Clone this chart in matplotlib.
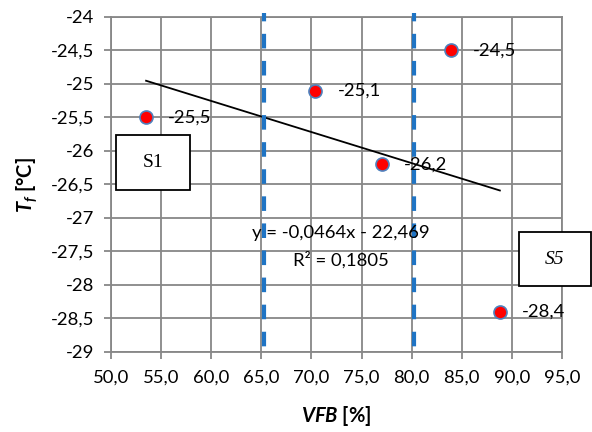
import matplotlib
matplotlib.use("Agg")
import matplotlib.pyplot as plt
import numpy as np
from matplotlib.ticker import FuncFormatter, MultipleLocator
from matplotlib.patches import Rectangle

vfb = [53.5, 70.4, 77.0, 83.9, 88.8]
tf = [-25.5, -25.1, -26.2, -24.5, -28.4]
point_labels = ["-25,5", "-25,1", "-26,2", "-24,5", "-28,4"]
slope = -0.0464
intercept = -22.469
r2_text = "R² = 0,1805"
eq_text = "y = -0,0464x - 22,469"
limit_lines = [65.3, 80.2]

plt.rcParams['font.family'] = ['Lato', 'DejaVu Sans']
plt.rcParams['mathtext.fontset'] = 'custom'
plt.rcParams['mathtext.it'] = 'Lato:italic:bold'
plt.rcParams['mathtext.rm'] = 'Lato:bold'
plt.rcParams['mathtext.bf'] = 'Lato:bold'

FS = 13.3

fig = plt.figure(figsize=(5.92, 4.32), dpi=100)
ax = fig.add_axes([111/592, 1-352/432, (562-111)/592, (352-17)/432])

ax.set_xlim(50, 95)
ax.set_ylim(-29, -24)
ax.xaxis.set_major_locator(MultipleLocator(5))
ax.yaxis.set_major_locator(MultipleLocator(0.5))
ax.xaxis.set_major_formatter(FuncFormatter(lambda v, p: f"{v:.1f}".replace(".", ",")))
def yfmt(v, p):
    s = f"{v:.1f}".rstrip("0").rstrip(".")
    return s.replace(".", ",")
ax.yaxis.set_major_formatter(FuncFormatter(yfmt))

gray = "#878787"
ax.grid(True, color=gray, linewidth=1.3)
ax.set_axisbelow(True)
for s in ax.spines.values():
    s.set_color(gray)
    s.set_linewidth(1.3)
ax.tick_params(axis='both', colors=gray, labelcolor='black', labelsize=FS, length=5, width=1.3, direction='out')
ax.tick_params(axis='x', pad=8)
ax.tick_params(axis='y', pad=7)

# trendline
xs = np.array([min(vfb), max(vfb)])
ax.plot(xs, slope*xs + intercept, color='black', linewidth=1.3, zorder=3)

# vertical dashed lines
for xv in limit_lines:
    ax.plot([xv, xv], [-23.94, -29.05], color='#1f74c4', linewidth=3, linestyle=(1.5, (3.5, 3.0)),
            solid_capstyle='butt', dash_capstyle='butt', clip_on=False, zorder=4)

ax.scatter(vfb, tf, s=88, facecolor='#ff0000', edgecolor='#4f81bd', linewidth=1.2, zorder=5)
for x, y, lab in zip(vfb, tf, point_labels):
    ax.annotate(lab, (x, y), xytext=(16, 0), textcoords='offset points', va='center', ha='left', fontsize=FS, zorder=6)

ax.text(72.9, -27.22, eq_text, ha='center', va='center', fontsize=FS, zorder=6)
ax.text(72.9, -27.62, r2_text, ha='center', va='center', fontsize=FS, zorder=6)

def box(x0, y0, x1, y1, text, style):
    W, H = 592, 432
    r = Rectangle((x0/W, 1-y1/H), (x1-x0)/W, (y1-y0)/H, transform=fig.transFigure,
                  facecolor='white', edgecolor='black', linewidth=1.3, zorder=10, clip_on=False)
    fig.add_artist(r)
    fig.text((x0+x1)/2/W, 1-(y0+y1)/2/H, text, ha='center', va='center', fontsize=14,
             family='Liberation Serif', style=style, zorder=11)
box(116, 135, 190, 190, "S1", 'normal')
box(519, 232, 591, 286, "S5", 'italic')

ax.set_xlabel(r"$VFB$ [%]", fontsize=14.5, fontweight='bold', labelpad=13)
ax.set_ylabel(r"$T_f$ [°C]", fontsize=14.5, fontweight='bold', labelpad=8)

fig.savefig("out.png", dpi=100)
